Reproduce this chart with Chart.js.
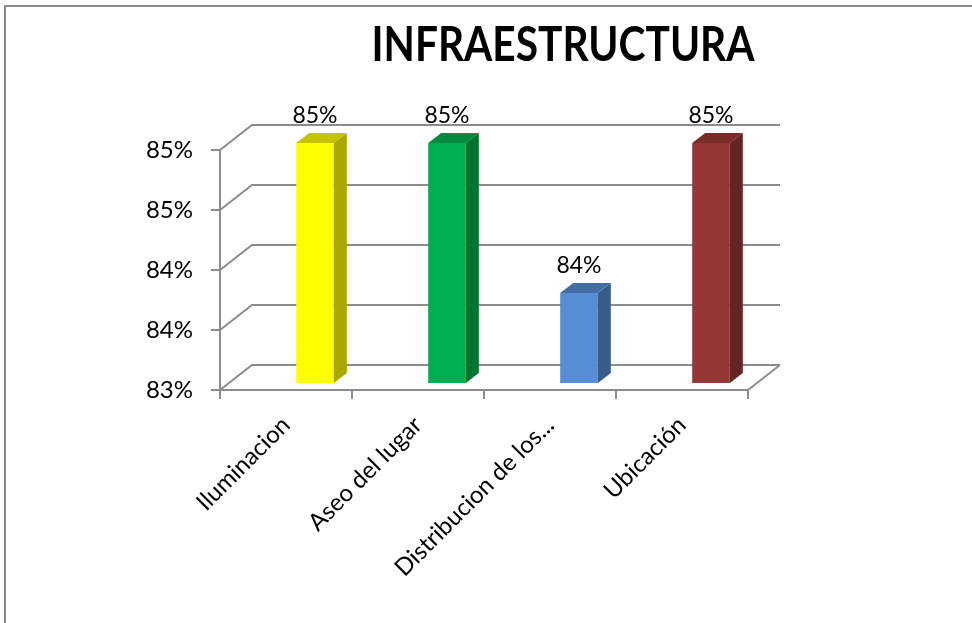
<!DOCTYPE html>
<html>
<head>
<meta charset="utf-8">
<script src="https://cdn.jsdelivr.net/npm/chart.js@4.4.1/dist/chart.umd.min.js"></script>
<style>
  body { margin: 0; background: #fff; overflow: hidden; }
  #frame { position: absolute; left: 4px; top: 5px; width: 1000px; height: 700px; border: 2px solid #8a8a8a; }
  #wrap { position: absolute; left: 0; top: 0; width: 972px; height: 623px; }
  #title { position: absolute; left: 263px; top: 14px; width: 600px; text-align: center;
           font: bold 48px Lato, sans-serif; color: #000; transform-origin: 50% 50%; }
</style>
</head>
<body>
<div id="frame"></div>
<div id="wrap"><canvas id="myChart"></canvas></div>
<div id="title">INFRAESTRUCTURA</div>
<script>
var categories = ['Iluminacion', 'Aseo del lugar', 'Distribucion de los...', 'Ubicación'];
var values = [85, 85, 83.75, 85];
var yTicks = [83, 83.5, 84, 84.5, 85];

var frontColors = ['#ffff00', '#00b050', '#558ed5', '#953735'];
var sideColors = ['#a8a800', '#00732f', '#385d8a', '#632523'];
var topColors = ['#c4c400', '#008a3e', '#426ea5', '#772c2a'];

// squeeze the bold title to the narrow look of the original
var title = document.getElementById('title');
var m = document.createElement('canvas').getContext('2d');
m.font = 'bold 48px Lato';
title.style.transform = 'scaleX(' + (383 / m.measureText(title.textContent).width) + ')';

var wall = { dx: 32, dy: -25 };   // back wall offset
var shift = { dx: 29, dy: -7 };   // bars sit inside the floor
var depth = { dx: 13, dy: -10 };  // bar side/top faces
var lineCol = '#8c8c8c';

var threeD = {
  id: 'threeD',
  beforeDatasetsDraw: function(chart) {
    var ctx = chart.ctx, a = chart.chartArea, y = chart.scales.y;
    ctx.save();
    ctx.strokeStyle = lineCol;
    ctx.lineWidth = 2;
    yTicks.forEach(function(v) {
      var py = y.getPixelForValue(v);
      ctx.beginPath();
      ctx.moveTo(a.left, py);
      ctx.lineTo(a.left + wall.dx, py + wall.dy);
      ctx.lineTo(a.right + wall.dx, py + wall.dy);
      ctx.stroke();
    });
    ctx.beginPath();
    ctx.moveTo(a.right, a.bottom);
    ctx.lineTo(a.right + wall.dx, a.bottom + wall.dy);
    ctx.stroke();
    ctx.restore();
    ctx.save();
    ctx.translate(shift.dx, shift.dy);
  },
  afterDatasetsDraw: function(chart) {
    var ctx = chart.ctx;
    ctx.restore();
    var meta = chart.getDatasetMeta(0);
    var floor = chart.scales.y.getPixelForValue(yTicks[0]);
    ctx.save();
    meta.data.forEach(function(el, i) {
      var w = el.width;
      var l = el.x - w / 2 + shift.dx, r = el.x + w / 2 + shift.dx;
      var t = el.y + shift.dy, b = Math.min(el.base, floor) + shift.dy;
      ctx.fillStyle = sideColors[i];
      ctx.beginPath();
      ctx.moveTo(r, t); ctx.lineTo(r + depth.dx, t + depth.dy);
      ctx.lineTo(r + depth.dx, b + depth.dy); ctx.lineTo(r, b);
      ctx.closePath(); ctx.fill();
      ctx.fillStyle = topColors[i];
      ctx.beginPath();
      ctx.moveTo(l, t); ctx.lineTo(l + depth.dx, t + depth.dy);
      ctx.lineTo(r + depth.dx, t + depth.dy); ctx.lineTo(r, t);
      ctx.closePath(); ctx.fill();
      ctx.fillStyle = '#000';
      ctx.font = '23px Lato';
      ctx.textAlign = 'center';
      ctx.textBaseline = 'alphabetic';
      ctx.fillText(Math.round(values[i]) + '%', (l + r) / 2, t + depth.dy - 10);
    });
    ctx.restore();
  }
};

var ctx = document.getElementById('myChart').getContext('2d');
var chart = new Chart(ctx, {
  type: 'bar',
  data: {
    labels: categories,
    datasets: [{
      data: values,
      backgroundColor: frontColors,
      borderWidth: 0,
      categoryPercentage: 1,
      barPercentage: 0.285
    }]
  },
  options: {
    responsive: true,
    maintainAspectRatio: false,
    animation: false,
    devicePixelRatio: 1,
    events: [],
    layout: { padding: { top: 150, right: 224, left: 0, bottom: 0 } },
    plugins: { legend: { display: false }, tooltip: { enabled: false } },
    scales: {
      x: {
        afterFit: function(s) { s.height = 233; },
        grid: { drawOnChartArea: false, color: lineCol, lineWidth: 2, tickLength: 9 },
        border: { color: lineCol, width: 2 },
        ticks: {
          minRotation: 45, maxRotation: 45, autoSkip: false,
          color: '#000', font: { family: 'Lato', size: 24 }, padding: 12
        }
      },
      y: {
        min: 83, max: 85,
        afterFit: function(s) { s.width = 220; },
        grid: { drawOnChartArea: false, color: lineCol, lineWidth: 2, tickLength: 9 },
        border: { color: lineCol, width: 2 },
        ticks: {
          stepSize: 0.5,
          color: '#000', font: { family: 'Lato', size: 24 }, padding: 18,
          callback: function(v) { return Math.round(v) + '%'; }
        }
      }
    }
  },
  plugins: [threeD]
});
</script>
</body>
</html>
